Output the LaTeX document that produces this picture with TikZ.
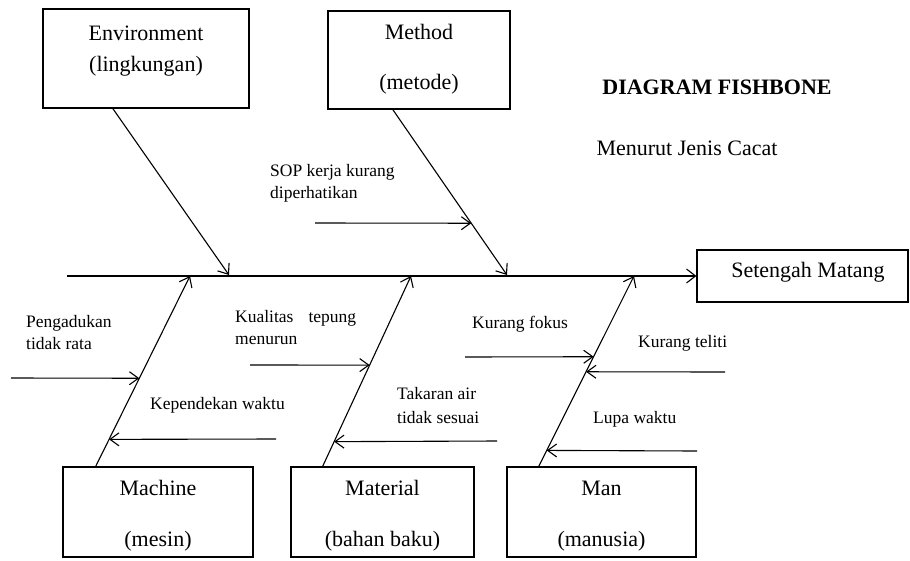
\documentclass[tikz,border=0pt]{standalone}
\usepackage{fontspec}
\setmainfont{Liberation Serif}
\usetikzlibrary{arrows.meta,calc}
\begin{document}
\begin{tikzpicture}[x=1pt,y=-1pt,
  box/.style={draw,line width=1.2pt,rectangle,inner sep=0pt},
  big/.style={font=\fontsize{22}{26}\selectfont,inner sep=0pt},
  small/.style={font=\fontsize{17.5}{22.5}\selectfont,inner sep=0pt,align=left,anchor=west},
  bone/.style={line width=1.1pt,-{Straight Barb[length=9pt,width=14pt,line width=1.1pt]}},
  sub/.style={line width=1.1pt,-{Straight Barb[length=9pt,width=13pt,line width=1.1pt]}}]
\useasboundingbox (0,0) rectangle (910,560);
% boxes
\node[box,minimum width=206pt,minimum height=99pt] (env) at (146,58.5) {};
\node[box,minimum width=182pt,minimum height=98pt] (met) at (419,60) {};
\node[box,minimum width=211pt,minimum height=52pt] (eff) at (802.5,276) {};
\node[box,minimum width=190pt,minimum height=90pt] (mac) at (158,512) {};
\node[box,minimum width=183pt,minimum height=90pt] (mat) at (382.5,512) {};
\node[box,minimum width=189pt,minimum height=90pt] (man) at (601.5,512) {};
% box labels
\node[big] (envA) at (146,33) {Environment};
\node[big] (envB) at (146,66) {(lingkungan)};
\node[big] (metA) at (419,32) {Method};
\node[big] (metB) at (419,84) {(metode)};
\node[big] (effA) at (808,272) {Setengah Matang};
\node[big] (macA) at (158,488) {Machine};
\node[big] (macB) at (158,541) {(mesin)};
\node[big] (matA) at (382.5,488) {Material};
\node[big] (matB) at (382.5,541) {(bahan baku)};
\node[big] (manA) at (601.5,488) {Man};
\node[big] (manB) at (601.5,541) {(manusia)};
% title
\node[big,font=\fontsize{22}{26}\selectfont\bfseries] (title) at (717,87) {DIAGRAM FISHBONE};
\node[big] (subt) at (687,148) {Menurut Jenis Cacat};
% spine
\coordinate (spL) at (67,276);
\draw[bone] (spL) -- (eff.west);
% main bones
\coordinate (envS) at ($(env.south west)!0.34!(env.south east)$);
\coordinate (envE) at (229,275);
\draw[bone] (envS) -- (envE);
\coordinate (metS) at ($(met.south west)!0.357!(met.south east)$);
\coordinate (metE) at (507,275);
\draw[bone] (metS) -- (metE);
\coordinate (macS) at ($(mac.north west)!0.174!(mac.north east)$);
\coordinate (macE) at (190,276);
\draw[bone] (macS) -- (macE);
\coordinate (matS) at ($(mat.north west)!0.175!(mat.north east)$);
\coordinate (matE) at (411,276);
\draw[bone] (matS) -- (matE);
\coordinate (manS) at ($(man.north west)!0.17!(man.north east)$);
\coordinate (manE) at (634,276);
\draw[bone] (manS) -- (manE);
% sub causes
\node[small] (sop) at (270,183.5) {SOP kerja kurang\\diperhatikan};
\coordinate (sopS) at (315,223);
\draw[sub] (sopS) -- ($(metS)!0.687!(metE)$);
\node[small] (peng) at (26,332.5) {Pengadukan\\tidak rata};
\coordinate (pengS) at (11,378);
\draw[sub] (pengS) -- ($(macS)!0.463!(macE)$);
\node[small] (kep) at (150,405) {Kependekan waktu};
\coordinate (kepS) at (276,439);
\draw[sub] (kepS) -- ($(macS)!0.142!(macE)$);
\node[small,font=\fontsize{17.5}{22}\selectfont] (kual) at (235,328) {Kualitas\hspace{15pt}tepung\\menurun};
\coordinate (kualS) at (250,365);
\draw[sub] (kualS) -- ($(matS)!0.532!(matE)$);
\node[small,font=\fontsize{17.5}{24}\selectfont] (tak) at (397,406) {Takaran air\\tidak sesuai};
\coordinate (takS) at (497,441);
\draw[sub] (takS) -- ($(matS)!0.13!(matE)$);
\node[small] (fok) at (472,324) {Kurang fokus};
\coordinate (fokS) at (465,357);
\draw[sub] (fokS) -- ($(manS)!0.576!(manE)$);
\node[small] (tel) at (638,343) {Kurang teliti};
\coordinate (telS) at (725,372);
\draw[sub] (telS) -- ($(manS)!0.497!(manE)$);
\node[small] (lupa) at (593,419) {Lupa waktu};
\coordinate (lupaS) at (697,451);
\draw[sub] (lupaS) -- ($(manS)!0.084!(manE)$);
\end{tikzpicture}
\end{document}
